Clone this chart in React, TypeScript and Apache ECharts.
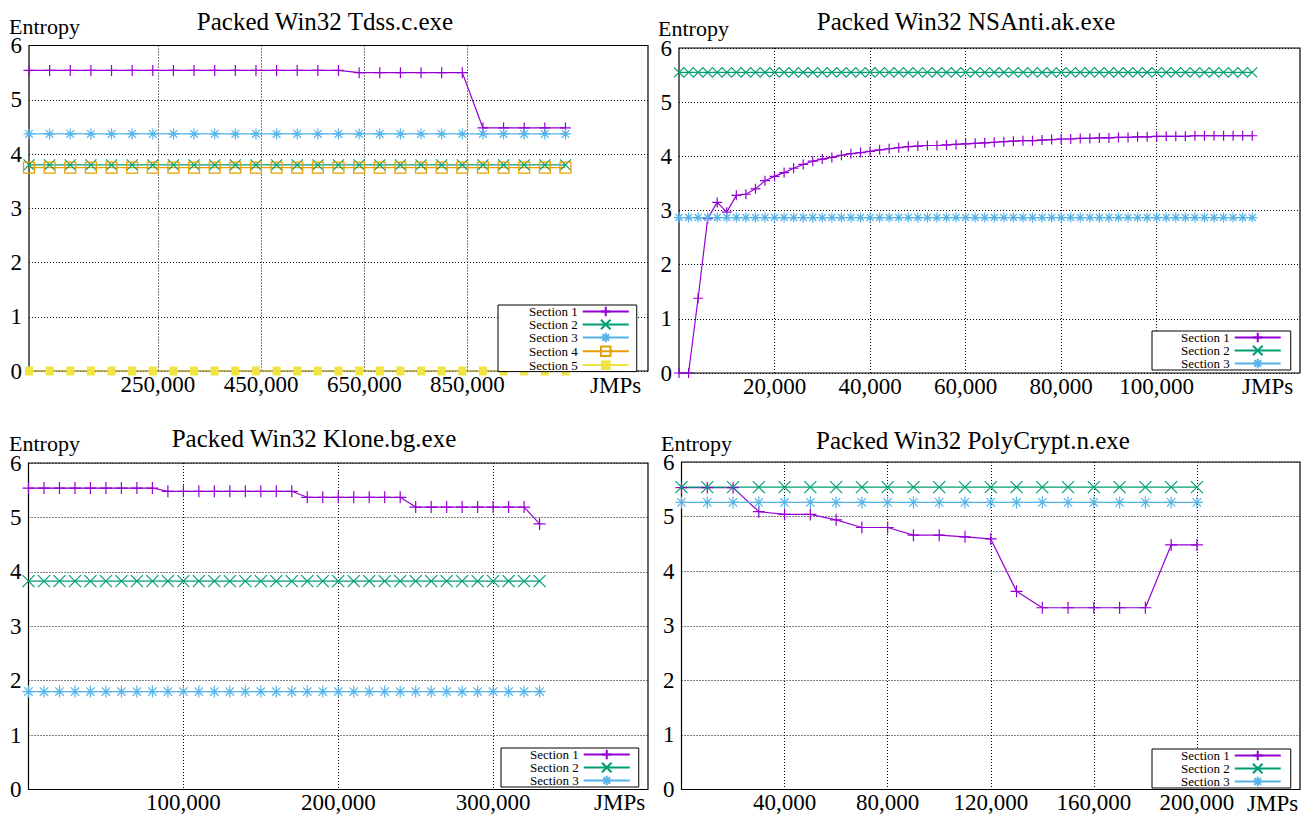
import React, { useEffect, useRef } from 'react';
import * as echarts from 'echarts';

const FONT = '"Liberation Serif", "DejaVu Serif", serif';

const SECTION_NAMES = ['Section 1', 'Section 2', 'Section 3', 'Section 4', 'Section 5'];
const COLORS = ['#9400d3', '#009e73', '#56b4e9', '#e69f00', '#f0e442'];

// ---------- Panel 1: Packed Win32 Tdss.c.exe ----------
const tdssX = [0, 40000, 80000, 120000, 160000, 200000, 240000, 280000, 320000, 360000, 400000, 440000, 480000, 520000, 560000, 600000, 640000, 680000, 720000, 760000, 800000, 840000, 880000, 920000, 960000, 1000000, 1040000];
const tdssS1 = [5.54, 5.54, 5.54, 5.54, 5.54, 5.54, 5.54, 5.54, 5.54, 5.54, 5.54, 5.54, 5.54, 5.54, 5.54, 5.54, 5.5, 5.5, 5.5, 5.5, 5.5, 5.5, 4.48, 4.48, 4.48, 4.48, 4.48];
const tdssS2 = [3.8, 3.8, 3.8, 3.8, 3.8, 3.8, 3.8, 3.8, 3.8, 3.8, 3.8, 3.8, 3.8, 3.8, 3.8, 3.8, 3.8, 3.8, 3.8, 3.8, 3.8, 3.8, 3.8, 3.8, 3.8, 3.8, 3.8];
const tdssS3 = [4.37, 4.37, 4.37, 4.37, 4.37, 4.37, 4.37, 4.37, 4.37, 4.37, 4.37, 4.37, 4.37, 4.37, 4.37, 4.37, 4.37, 4.37, 4.37, 4.37, 4.37, 4.37, 4.37, 4.37, 4.37, 4.37, 4.37];
const tdssS4 = [3.75, 3.75, 3.75, 3.75, 3.75, 3.75, 3.75, 3.75, 3.75, 3.75, 3.75, 3.75, 3.75, 3.75, 3.75, 3.75, 3.75, 3.75, 3.75, 3.75, 3.75, 3.75, 3.75, 3.75, 3.75, 3.75, 3.75];
const tdssS5 = [0, 0, 0, 0, 0, 0, 0, 0, 0, 0, 0, 0, 0, 0, 0, 0, 0, 0, 0, 0, 0, 0, 0, 0, 0, 0, 0];
const tdssTicks = [250000, 450000, 650000, 850000];

// ---------- Panel 2: Packed Win32 NSAnti.ak.exe ----------
const nsX = [0, 2000, 4000, 6000, 8000, 10000, 12000, 14000, 16000, 18000, 20000, 22000, 24000, 26000, 28000, 30000, 32000, 34000, 36000, 38000, 40000, 42000, 44000, 46000, 48000, 50000, 52000, 54000, 56000, 58000, 60000, 62000, 64000, 66000, 68000, 70000, 72000, 74000, 76000, 78000, 80000, 82000, 84000, 86000, 88000, 90000, 92000, 94000, 96000, 98000, 100000, 102000, 104000, 106000, 108000, 110000, 112000, 114000, 116000, 118000, 120000];
const nsS1 = [0, 0, 1.38, 2.85, 3.15, 2.97, 3.28, 3.3, 3.4, 3.55, 3.63, 3.7, 3.78, 3.85, 3.91, 3.95, 3.98, 4.02, 4.05, 4.07, 4.09, 4.12, 4.14, 4.16, 4.18, 4.19, 4.2, 4.2, 4.21, 4.22, 4.23, 4.24, 4.25, 4.26, 4.27, 4.28, 4.29, 4.29, 4.3, 4.31, 4.32, 4.32, 4.33, 4.33, 4.34, 4.34, 4.35, 4.35, 4.36, 4.36, 4.37, 4.37, 4.37, 4.37, 4.38, 4.38, 4.38, 4.38, 4.38, 4.38, 4.38];
const nsS2 = [5.55, 5.55, 5.55, 5.55, 5.55, 5.55, 5.55, 5.55, 5.55, 5.55, 5.55, 5.55, 5.55, 5.55, 5.55, 5.55, 5.55, 5.55, 5.55, 5.55, 5.55, 5.55, 5.55, 5.55, 5.55, 5.55, 5.55, 5.55, 5.55, 5.55, 5.55, 5.55, 5.55, 5.55, 5.55, 5.55, 5.55, 5.55, 5.55, 5.55, 5.55, 5.55, 5.55, 5.55, 5.55, 5.55, 5.55, 5.55, 5.55, 5.55, 5.55, 5.55, 5.55, 5.55, 5.55, 5.55, 5.55, 5.55, 5.55, 5.55, 5.55];
const nsS3 = [2.87, 2.87, 2.87, 2.87, 2.87, 2.87, 2.87, 2.87, 2.87, 2.87, 2.87, 2.87, 2.87, 2.87, 2.87, 2.87, 2.87, 2.87, 2.87, 2.87, 2.87, 2.87, 2.87, 2.87, 2.87, 2.87, 2.87, 2.87, 2.87, 2.87, 2.87, 2.87, 2.87, 2.87, 2.87, 2.87, 2.87, 2.87, 2.87, 2.87, 2.87, 2.87, 2.87, 2.87, 2.87, 2.87, 2.87, 2.87, 2.87, 2.87, 2.87, 2.87, 2.87, 2.87, 2.87, 2.87, 2.87, 2.87, 2.87, 2.87, 2.87];
const nsTicks = [20000, 40000, 60000, 80000, 100000];

// ---------- Panel 3: Packed Win32 Klone.bg.exe ----------
const kloneX = [0, 10000, 20000, 30000, 40000, 50000, 60000, 70000, 80000, 90000, 100000, 110000, 120000, 130000, 140000, 150000, 160000, 170000, 180000, 190000, 200000, 210000, 220000, 230000, 240000, 250000, 260000, 270000, 280000, 290000, 300000, 310000, 320000, 330000];
const kloneS1 = [5.54, 5.54, 5.54, 5.54, 5.54, 5.54, 5.54, 5.54, 5.54, 5.48, 5.48, 5.48, 5.48, 5.48, 5.48, 5.48, 5.48, 5.48, 5.37, 5.37, 5.37, 5.37, 5.37, 5.37, 5.37, 5.19, 5.19, 5.19, 5.19, 5.19, 5.19, 5.19, 5.19, 4.88];
const kloneS2 = [3.83, 3.83, 3.83, 3.83, 3.83, 3.83, 3.83, 3.83, 3.83, 3.83, 3.83, 3.83, 3.83, 3.83, 3.83, 3.83, 3.83, 3.83, 3.83, 3.83, 3.83, 3.83, 3.83, 3.83, 3.83, 3.83, 3.83, 3.83, 3.83, 3.83, 3.83, 3.83, 3.83, 3.83];
const kloneS3 = [1.8, 1.8, 1.8, 1.8, 1.8, 1.8, 1.8, 1.8, 1.8, 1.8, 1.8, 1.8, 1.8, 1.8, 1.8, 1.8, 1.8, 1.8, 1.8, 1.8, 1.8, 1.8, 1.8, 1.8, 1.8, 1.8, 1.8, 1.8, 1.8, 1.8, 1.8, 1.8, 1.8, 1.8];
const kloneTicks = [100000, 200000, 300000];

// ---------- Panel 4: Packed Win32 PolyCrypt.n.exe ----------
const polyX = [0, 10000, 20000, 30000, 40000, 50000, 60000, 70000, 80000, 90000, 100000, 110000, 120000, 130000, 140000, 150000, 160000, 170000, 180000, 190000, 200000];
const polyS1 = [5.53, 5.53, 5.53, 5.09, 5.04, 5.04, 4.94, 4.8, 4.8, 4.66, 4.66, 4.63, 4.59, 3.63, 3.33, 3.33, 3.33, 3.33, 3.33, 4.48, 4.48];
const polyS2 = [5.54, 5.54, 5.54, 5.54, 5.54, 5.54, 5.54, 5.54, 5.54, 5.54, 5.54, 5.54, 5.54, 5.54, 5.54, 5.54, 5.54, 5.54, 5.54, 5.54, 5.54];
const polyS3 = [5.26, 5.26, 5.26, 5.26, 5.26, 5.26, 5.26, 5.26, 5.26, 5.26, 5.26, 5.26, 5.26, 5.26, 5.26, 5.26, 5.26, 5.26, 5.26, 5.26, 5.26];
const polyTicks = [40000, 80000, 120000, 160000, 200000];

const Y_MIN = 0;
const Y_MAX = 6;

// gnuplot-like point types: plus, cross, asterisk, open square, filled square
const SYMBOLS = [
  'path://M0,5L10,5M5,0L5,10',
  'path://M0,0L10,10M10,0L0,10',
  'path://M0,5L10,5M5,0L5,10M1.5,1.5L8.5,8.5M8.5,1.5L1.5,8.5',
  'path://M0,0L10,0L10,10L0,10Z',
  'rect',
];

const PANELS = [
  {
    title: 'Packed Win32 Tdss.c.exe',
    x: tdssX,
    ys: [tdssS1, tdssS2, tdssS3, tdssS4, tdssS5],
    ticks: tdssTicks,
    xMax: 1200000,
    grid: { left: 29, top: 45.5, width: 619, height: 325.5 },
    symbolSize: 11,
    legend: { left: 498, top: 305, padding: [0, 7, 0, 31] },
    titlePos: [325, 21],
    entropyPos: [9, 26],
    jmpsPos: [590, 385],
  },
  {
    title: 'Packed Win32 NSAnti.ak.exe',
    x: nsX,
    ys: [nsS1, nsS2, nsS3],
    ticks: nsTicks,
    xMax: 130000,
    grid: { left: 679, top: 48, width: 621, height: 325 },
    symbolSize: 10,
    legend: { left: 1152, top: 331, padding: [0, 9, 0, 29] },
    titlePos: [966, 21],
    entropyPos: [658, 28],
    jmpsPos: [1242, 386],
  },
  {
    title: 'Packed Win32 Klone.bg.exe',
    x: kloneX,
    ys: [kloneS1, kloneS2, kloneS3],
    ticks: kloneTicks,
    xMax: 400000,
    grid: { left: 28.5, top: 463, width: 619.5, height: 327 },
    symbolSize: 12,
    legend: { left: 501, top: 748, padding: [0, 8, 0, 29] },
    titlePos: [314, 438],
    entropyPos: [9, 443],
    jmpsPos: [594, 802],
  },
  {
    title: 'Packed Win32 PolyCrypt.n.exe',
    x: polyX,
    ys: [polyS1, polyS2, polyS3],
    ticks: polyTicks,
    xMax: 240000,
    grid: { left: 681.5, top: 462, width: 618.5, height: 330 },
    symbolSize: 12,
    legend: { left: 1152, top: 749, padding: [0, 9, 0, 29] },
    titlePos: [973, 440],
    entropyPos: [661, 443],
    jmpsPos: [1247, 803],
  },
];

const dotted = { color: '#000', width: 1, type: [1, 2] as number[] };

function textEl(text: string, x: number, y: number, size: number, align: string) {
  return {
    type: 'text',
    x,
    y,
    silent: true,
    style: {
      text,
      fill: '#000',
      fontSize: size,
      fontFamily: FONT,
      lineHeight: Math.round(size * 0.8),
      align,
      textAlign: align,
      verticalAlign: 'middle',
      textVerticalAlign: 'middle',
    },
  };
}

function buildOption() {
  const grids: any[] = [];
  const xAxes: any[] = [];
  const yAxes: any[] = [];
  const series: any[] = [];
  const legends: any[] = [];
  const graphics: any[] = [];

  PANELS.forEach((p, i) => {
    grids.push({ ...p.grid, show: true, borderColor: '#000', borderWidth: 1.2, containLabel: false });
    xAxes.push({
      type: 'value',
      gridIndex: i,
      min: 0,
      max: p.xMax,
      axisLine: { show: false },
      axisTick: { show: false, customValues: p.ticks },
      axisLabel: {
        customValues: p.ticks,
        formatter: (v: number) => v.toLocaleString('en-US'),
        fontSize: 23,
        lineHeight: 20,
        fontFamily: FONT,
        color: '#000',
        margin: 3,
      },
      splitLine: { show: true, lineStyle: dotted },
    });
    yAxes.push({
      type: 'value',
      gridIndex: i,
      min: Y_MIN,
      max: Y_MAX,
      interval: 1,
      axisLine: { show: false },
      axisTick: { show: false },
      axisLabel: { fontSize: 23, lineHeight: 16, fontFamily: FONT, color: '#000', margin: 7 },
      splitLine: { show: true, lineStyle: dotted },
    });
    const names: string[] = [];
    p.ys.forEach((ys, j) => {
      names.push(SECTION_NAMES[j]);
      const c = COLORS[j];
      const filledSquare = j === 4;
      series.push({
        type: 'line',
        name: SECTION_NAMES[j],
        xAxisIndex: i,
        yAxisIndex: i,
        data: p.x.map((xv, k) => [xv, ys[k]]),
        symbol: SYMBOLS[j],
        symbolSize: filledSquare ? [8, 9] : p.symbolSize,
        showSymbol: true,
        clip: false,
        lineStyle: { color: c, width: 1.2 },
        itemStyle: filledSquare
          ? { color: c, borderWidth: 0 }
          : { color: j === 3 ? 'none' : c, borderColor: c, borderWidth: 1.2 },
        emphasis: { disabled: true },
      });
    });
    legends.push({
      data: names,
      left: p.legend.left,
      top: p.legend.top,
      orient: 'vertical',
      align: 'right',
      itemWidth: 46,
      itemHeight: 12,
      itemGap: 0,
      padding: p.legend.padding,
      backgroundColor: '#fff',
      borderColor: '#000',
      borderWidth: 1,
      borderRadius: 0,
      selectedMode: false,
      textStyle: { fontSize: 13, fontFamily: FONT, color: '#000', lineHeight: 12 },
    });
    graphics.push(textEl(p.title, p.titlePos[0], p.titlePos[1], 25, 'center'));
    graphics.push(textEl('Entropy', p.entropyPos[0], p.entropyPos[1], 22, 'left'));
    graphics.push(textEl('JMPs', p.jmpsPos[0], p.jmpsPos[1], 23, 'left'));
  });

  return {
    animation: false,
    backgroundColor: '#fff',
    grid: grids,
    xAxis: xAxes,
    yAxis: yAxes,
    legend: legends,
    series,
    graphic: graphics,
  };
}

export default function App() {
  const ref = useRef<HTMLDivElement>(null);
  useEffect(() => {
    if (!ref.current) return;
    const chart = echarts.init(ref.current, undefined, { renderer: 'svg' });
    chart.setOption(buildOption() as any);
    return () => chart.dispose();
  }, []);
  return (
    <div
      ref={ref}
      style={{ position: 'absolute', left: 0, top: 0, width: 1309, height: 814, background: '#fff' }}
    />
  );
}
